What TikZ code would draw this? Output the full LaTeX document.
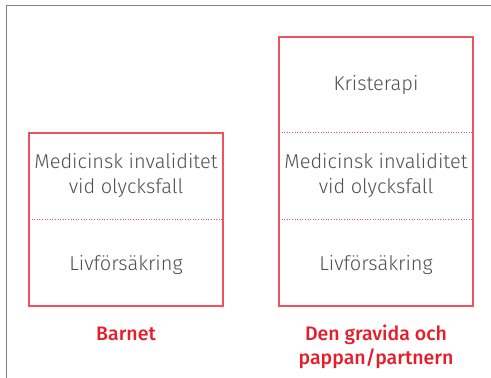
\documentclass[tikz,border=0pt]{standalone}
\usepackage{fontspec}
\setmainfont{Fira Sans Light}[BoldFont={Fira Sans Medium}]
\definecolor{boxred}{RGB}{238,82,92}
\definecolor{labelred}{RGB}{228,30,42}
\definecolor{textgray}{RGB}{80,80,80}
\definecolor{framegray}{RGB}{128,128,128}
\begin{document}
\begin{tikzpicture}[x=1pt, y=-1pt,
  item/.style={text=textgray, font=\fontsize{20}{25}\selectfont, align=center},
  who/.style={text=labelred, font=\bfseries\fontsize{19.5}{24.5}\selectfont, align=center},
  rim/.style={draw=boxred, line width=1.4pt},
  sep/.style={draw=boxred, line width=0.5pt, dash pattern=on 1pt off 1.6pt}]
\useasboundingbox (0,0) rectangle (491,378);
\fill[white] (0,0) rectangle (491,378);
\draw[framegray, line width=1pt] (6,378) -- (6,5) -- (491,5);
% left column
\coordinate (b0) at (29,133);
\coordinate (b1) at (223,306);
\draw[rim] (b0) rectangle (b1);
\draw[sep] (29,219) -- (223,219);
\node[item] (bmed) at (126,175.5) {Medicinsk invaliditet\\vid olycksfall};
\node[item] (bliv) at (126,265) {Livförsäkring};
\node[who] (barn) at (126,333.5) {Barnet};
% right column
\coordinate (p0) at (279,37);
\coordinate (p1) at (473,306);
\draw[rim] (p0) rectangle (p1);
\draw[sep] (279,132.5) -- (473,132.5);
\draw[sep] (279,219) -- (473,219);
\node[item] (pkri) at (376,85) {Kristerapi};
\node[item] (pmed) at (376,175.5) {Medicinsk invaliditet\\vid olycksfall};
\node[item] (pliv) at (376,265) {Livförsäkring};
\node[who] (par) at (376,347) {Den gravida och\\pappan/partnern};
\end{tikzpicture}
\end{document}
